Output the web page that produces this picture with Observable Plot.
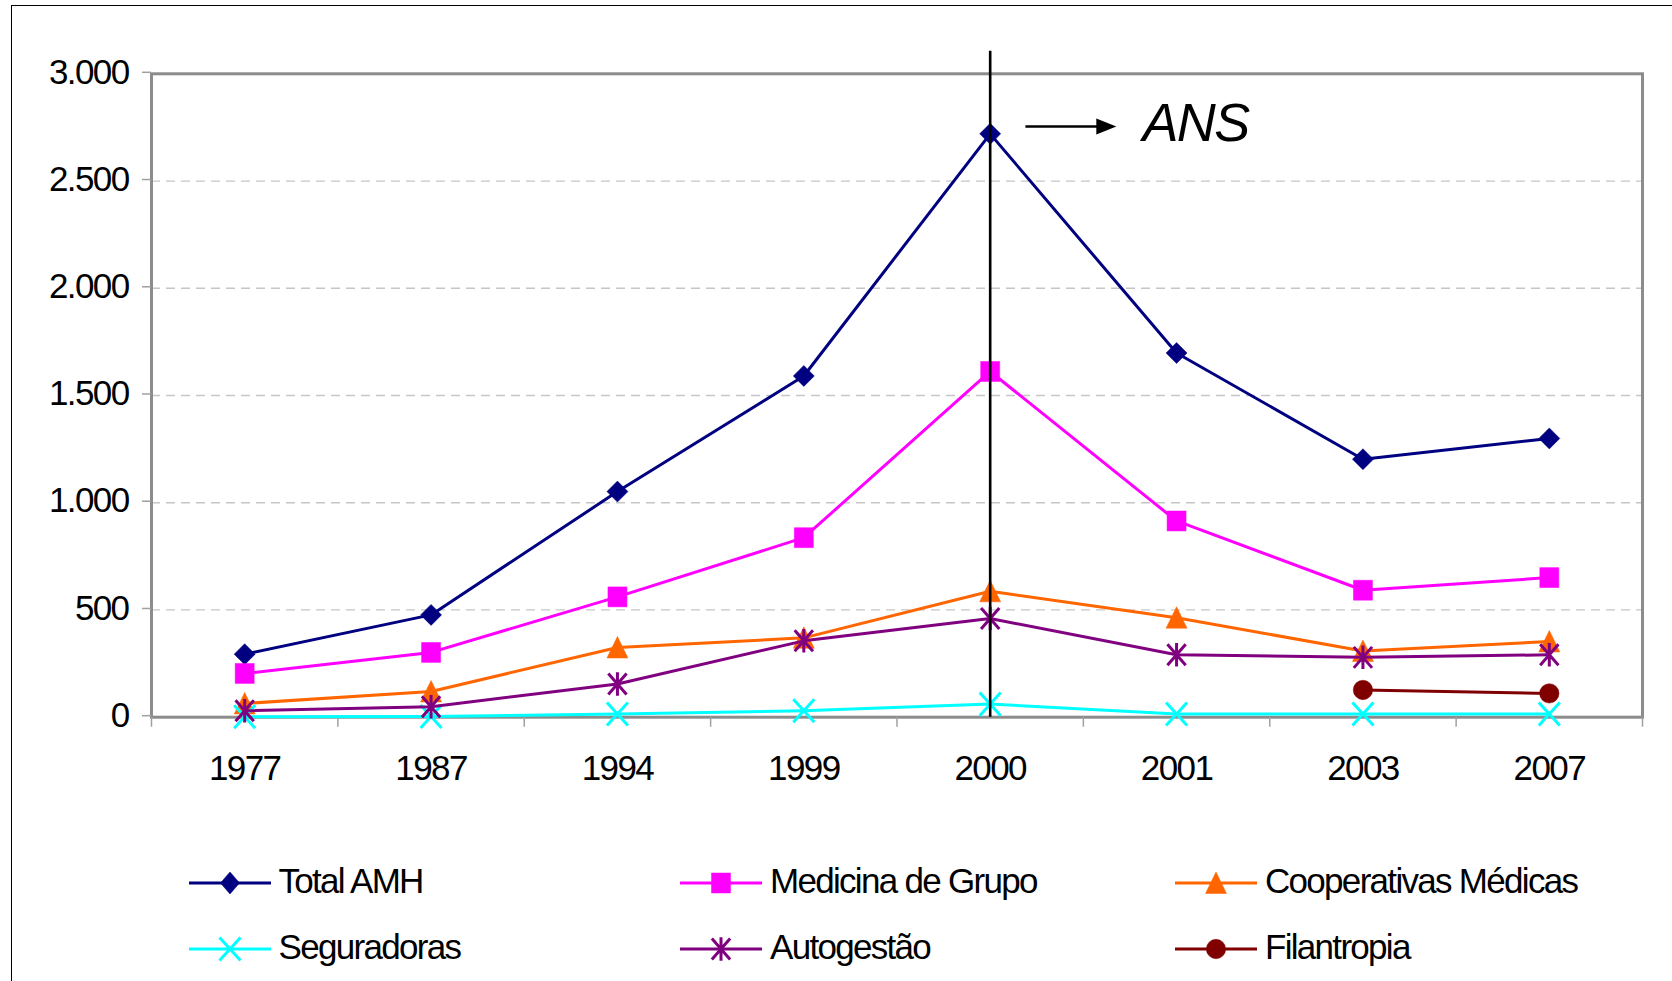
<!DOCTYPE html>
<html>
<head>
<meta charset="utf-8">
<script src="https://cdn.jsdelivr.net/npm/d3@7"></script>
<script src="https://cdn.jsdelivr.net/npm/@observablehq/plot@0.6"></script>
<style>
html,body{margin:0;padding:0;background:#fff;overflow:hidden;width:1672px;height:981px;}
#page{position:relative;width:1672px;height:981px;font-family:"Liberation Sans",Arial,sans-serif;}
#border{position:absolute;left:11px;top:5px;width:3000px;height:3000px;border-left:1.6px solid #000;border-top:1.6px solid #000;pointer-events:none;z-index:2;}
#chart svg{display:block;}
#chart svg text{letter-spacing:-1.6px;}
#legend{position:relative;height:151px;}
.item{position:absolute;display:flex;align-items:center;height:40px;font-size:35px;letter-spacing:-1.7px;color:#000;white-space:nowrap;}
.item svg{margin-right:8px;flex:none;}
.item span{position:relative;top:-2px;}
</style>
</head>
<body>
<div id="page">
  <div id="border"></div>
  <div id="chart"></div>
  <div id="legend"></div>
</div>
<script>
// ---------- data ----------
const years = ["1977","1987","1994","1999","2000","2001","2003","2007"];
const seriesNames = ["Total AMH","Medicina de Grupo","Cooperativas Médicas","Seguradoras","Autogestão","Filantropia"];
const totalAMH      = [294, 477, 1052, 1591, 2720, 1698, 1203, 1300];
const medicinaGrupo = [204, 302, 561, 837, 1612, 915, 592, 651];
const cooperativas  = [64, 120, 325, 370, 587, 464, 309, 353];
const seguradoras   = [2, 3, 15, 30, 61, 15, 15, 15];
const autogestao    = [30, 49, 155, 356, 460, 291, 279, 291];
const filantropia   = [null, null, null, null, null, null, 127, 111];
const yTicks = [0, 500, 1000, 1500, 2000, 2500, 3000];
const ansYear = "2000";
const ansLabel = "ANS";

// ---------- styles ----------
const seriesColors = ["#000080", "#ff00ff", "#ff6600", "#00ffff", "#800080", "#800000"];
const values = [totalAMH, medicinaGrupo, cooperativas, seguradoras, autogestao, filantropia];

function R(size){ return Math.sqrt(size / Math.PI); }
const mkDiamond = (ax, ay) => ({draw(c, s){ const r = R(s); c.moveTo(0,-r*ay); c.lineTo(r*ax,0); c.lineTo(0,r*ay); c.lineTo(-r*ax,0); c.closePath(); }});
const mkSquare = () => ({draw(c, s){ const r = R(s); c.moveTo(-r,-r*1.05); c.lineTo(r,-r*1.05); c.lineTo(r,r*1.05); c.lineTo(-r,r*1.05); c.closePath(); }});
const mkTriangle = () => ({draw(c, s){ const r = R(s); c.moveTo(0,-r*1.05); c.lineTo(r,r); c.lineTo(-r,r); c.closePath(); }});
const mkTimes = () => ({draw(c, s){ const r = R(s); c.moveTo(-r,-r*1.1); c.lineTo(r,r*1.1); c.moveTo(-r,r*1.1); c.lineTo(r,-r*1.1); }});
const mkAster = () => ({draw(c, s){ const r = R(s); c.moveTo(-r*0.87,-r); c.lineTo(r*0.87,r); c.moveTo(-r*0.87,r); c.lineTo(r*0.87,-r); c.moveTo(0,-r*1.12); c.lineTo(0,r*1.12); }});
const mkCircle = () => ({draw(c, s){ const r = R(s); c.moveTo(r,0); c.arc(0,0,r,0,2*Math.PI); }});
const mkArrowHead = () => ({draw(c, s){ const r = R(s); c.moveTo(r,0); c.lineTo(-r,-0.8*r); c.lineTo(-r,0.8*r); c.closePath(); }});

const markerStyle = [
  {symbol: mkDiamond(1,1), r: 10.5, filled: true, legendSymbol: mkDiamond(0.87,1), legendR: 11},
  {symbol: mkSquare(), r: 9.5, filled: true, legendSymbol: mkSquare(), legendR: 9.5},
  {symbol: mkTriangle(), r: 10.5, filled: true, legendSymbol: mkTriangle(), legendR: 10.5},
  {symbol: mkTimes(), r: 10.5, filled: false, legendSymbol: mkTimes(), legendR: 10.5},
  {symbol: mkAster(), r: 10.5, filled: false, legendSymbol: mkAster(), legendR: 10.5},
  {symbol: mkCircle(), r: 9.7, filled: true, legendSymbol: mkCircle(), legendR: 9.7}
];

// ---------- table ----------
const rows = [];
seriesNames.forEach((name, s) => values[s].forEach((v, i) => {
  if (v != null) rows.push({series: name, s, i, year: years[i], value: v});
}));

const fmt = d => d3.format(",")(d).replace(/,/g, ".");
const ansIndex = years.indexOf(ansYear);
const boundaries = d3.range(years.length + 1).map(k => k - 0.5);

const marks = [
  Plot.gridY(yTicks.filter(t => t > 0 && t < d3.max(yTicks)), {stroke: "#c6c6c6", strokeOpacity: 1, strokeWidth: 1.3, strokeDasharray: "9,6"}),
  Plot.frame({stroke: "#8c8c8c", strokeWidth: 3}),
  Plot.axisY(yTicks, {tickSize: 9, tickPadding: 14, stroke: "#a0a0a0", strokeWidth: 1.5, fill: "#000", fontSize: 35, tickFormat: fmt, dy: -1.5, label: null}),
  Plot.axisX(boundaries, {tickSize: 10, tickFormat: () => "", stroke: "#a0a0a0", strokeWidth: 1.5, label: null}),
  Plot.axisX(d3.range(years.length), {tickSize: 0, tickPadding: 38, fontSize: 35, tickFormat: i => years[i], fill: "#000", label: null})
];

seriesNames.forEach((name, s) => {
  const d = rows.filter(r => r.s === s);
  const m = markerStyle[s];
  marks.push(Plot.line(d, {x: "i", y: "value", stroke: seriesColors[s], strokeWidth: 3, strokeLinejoin: "round"}));
  marks.push(Plot.dot(d, {
    x: "i", y: "value", symbol: m.symbol, r: m.r,
    fill: m.filled ? seriesColors[s] : "none",
    stroke: seriesColors[s], strokeWidth: m.filled ? 0.5 : 3
  }));
});

// ANS annotation (positions in data units)
const ansLineTop = 3105, arrowY = 2754, ansTextY = 2766;
marks.push(Plot.ruleX([ansIndex], {x: d => d, y1: 0, y2: ansLineTop, stroke: "#000", strokeWidth: 2.6}));
marks.push(Plot.link([ansLabel], {x1: ansIndex + 0.189, x2: ansIndex + 0.60, y1: arrowY, y2: arrowY, stroke: "#000", strokeWidth: 2.6}));
marks.push(Plot.dot([ansLabel], {x: ansIndex + 0.623, y: arrowY, symbol: mkArrowHead(), r: 10, fill: "#000", stroke: "none"}));
marks.push(Plot.text([ansLabel], {x: ansIndex + 0.817, y: ansTextY, text: d => d, fontSize: 54, fontStyle: "italic", textAnchor: "start", fill: "#000"}));

const chart = Plot.plot({
  width: 1672, height: 830,
  marginLeft: 151, marginRight: 30, marginTop: 73.3, marginBottom: 113.3,
  x: {type: "linear", domain: [-0.5, years.length - 0.5], label: null},
  y: {domain: [0, 3000], label: null},
  style: {fontFamily: '"Liberation Sans", Arial, sans-serif', background: "transparent", overflow: "visible"},
  marks
});
document.getElementById("chart").appendChild(chart);

// ---------- legend ----------
const legendCols = [188.5, 680, 1175];
const legendRows = [52.7, 119.3];
const legend = d3.select("#legend");
seriesNames.forEach((name, s) => {
  const col = s % 3, row = Math.floor(s / 3);
  const m = markerStyle[s];
  const item = legend.append("div").attr("class", "item")
    .style("left", legendCols[col] + "px").style("top", (legendRows[row] - 20) + "px");
  const sw = item.append("svg").attr("width", 82).attr("height", 40);
  sw.append("line").attr("x1", 0).attr("x2", 82).attr("y1", 20).attr("y2", 20)
    .attr("stroke", seriesColors[s]).attr("stroke-width", 3);
  sw.append("path").attr("transform", "translate(41,20)")
    .attr("d", d3.symbol(m.legendSymbol, Math.PI * m.legendR * m.legendR)())
    .attr("fill", m.filled ? seriesColors[s] : "none")
    .attr("stroke", seriesColors[s]).attr("stroke-width", m.filled ? 0.5 : 3);
  item.append("span").text(name);
});
</script>
</body>
</html>
